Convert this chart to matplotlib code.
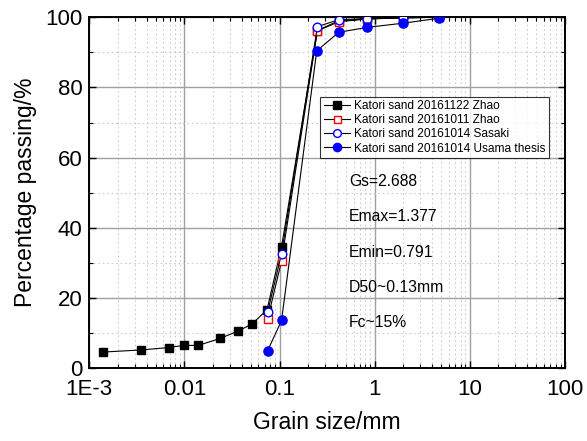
import matplotlib
matplotlib.use('Agg')
import matplotlib.pyplot as plt
from matplotlib.ticker import FixedLocator, LogLocator, NullFormatter, MultipleLocator

plt.rcParams['font.family'] = ['Liberation Sans', 'DejaVu Sans']

# 数据
d_zhao1122 = [0.00138, 0.00348, 0.0069, 0.0098, 0.014, 0.0238, 0.0367, 0.0514, 0.074, 0.105, 0.25, 0.419, 0.834, 2.0, 4.75]
p_zhao1122 = [4.6, 5.2, 5.9, 6.5, 6.5, 8.5, 10.6, 12.6, 16.7, 34.6, 96.2, 99.0, 99.5, 99.9, 100.0]

d_zhao1011 = [0.075, 0.105, 0.25, 0.419, 0.834, 2.0, 4.75]
p_zhao1011 = [14.0, 30.6, 96.1, 98.7, 99.5, 99.8, 100.0]

d_sasaki = [0.075, 0.105, 0.25, 0.419, 0.834, 2.0, 4.75]
p_sasaki = [16.0, 32.6, 97.3, 99.3, 99.6, 99.8, 100.0]

d_usama = [0.075, 0.105, 0.246, 0.419, 0.834, 2.0, 4.75]
p_usama = [5.0, 13.6, 90.4, 95.7, 97.1, 98.3, 99.7]

labels = ['Katori sand 20161122 Zhao', 'Katori sand 20161011 Zhao',
          'Katori sand 20161014 Sasaki', 'Katori sand 20161014 Usama thesis']
notes = ['Gs=2.688', 'Emax=1.377', 'Emin=0.791', 'D50~0.13mm', 'Fc~15%']
xtick_vals = [1e-3, 1e-2, 1e-1, 1, 10, 100]
xtick_labels = ['1E-3', '0.01', '0.1', '1', '10', '100']

fig = plt.figure(figsize=(5.87, 4.41), dpi=100)
ax = fig.add_axes([0.152, 0.165, 0.8105, 0.796])

ax.plot(d_zhao1122, p_zhao1122, '-', color='black', lw=0.8, marker='s', ms=5.8,
        mfc='black', mec='black', label=labels[0], zorder=3)
ax.plot(d_zhao1011, p_zhao1011, '-', color='black', lw=0.8, marker='s', ms=5.6,
        mfc='white', mec='red', mew=1.0, label=labels[1], zorder=4)
ax.plot(d_sasaki, p_sasaki, '-', color='black', lw=0.8, marker='o', ms=6.2,
        mfc='white', mec='blue', mew=1.0, label=labels[2], zorder=5)
ax.plot(d_usama, p_usama, '-', color='black', lw=0.8, marker='o', ms=6.6,
        mfc='blue', mec='blue', label=labels[3], zorder=6)

ax.set_xscale('log')
ax.set_xlim(1e-3, 100)
ax.set_ylim(0, 100)
ax.xaxis.set_major_locator(FixedLocator(xtick_vals))
ax.set_xticklabels(xtick_labels)
ax.xaxis.set_minor_locator(LogLocator(base=10, subs=range(2, 10), numticks=20))
ax.xaxis.set_minor_formatter(NullFormatter())
ax.yaxis.set_major_locator(MultipleLocator(20))
ax.yaxis.set_minor_locator(MultipleLocator(10))

ax.grid(which='major', color='#a0a0a0', lw=1.0, ls='-')
ax.grid(which='minor', color='#cccccc', lw=0.8, ls=(0, (1.5, 2.5)))
ax.set_axisbelow(True)

ax.tick_params(which='both', direction='in', top=True, right=True, labelsize=16)
ax.tick_params(which='major', length=5, width=1.0)
ax.tick_params(which='minor', length=3, width=0.8)
ax.tick_params(axis='y', pad=5)
ax.tick_params(axis='x', pad=8)
for s in ax.spines.values():
    s.set_linewidth(1.4)

ax.set_xlabel('Grain size/mm', fontsize=16.5, labelpad=8)
ax.set_ylabel('Percentage passing/%', fontsize=16.5, labelpad=6)

leg = ax.legend(loc='upper left', bbox_to_anchor=(0.485, 0.774), fontsize=8.6,
                frameon=True, fancybox=False, edgecolor='black', handlelength=2.2,
                borderpad=0.3, borderaxespad=0, labelspacing=0.18, handletextpad=0.35,
                markerscale=0.9)
leg.get_frame().set_linewidth(0.8)

for i, t in enumerate(notes):
    ax.text(0.546, 0.531 - 0.1 * i, t, transform=ax.transAxes, fontsize=11.3, va='center', ha='left')

fig.savefig('out.png', dpi=100)
